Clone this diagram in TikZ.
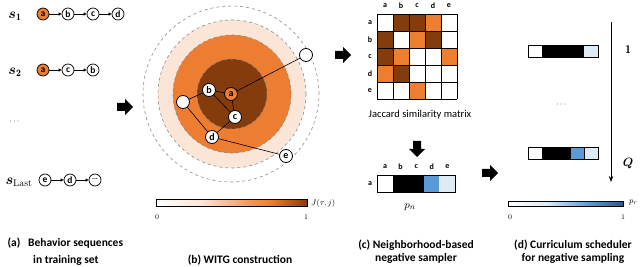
\documentclass[tikz,border=0pt]{standalone}
\usepackage{amsmath}
\usepackage{fontspec}
\newfontfamily\carl{Carlito}
\usetikzlibrary{arrows.meta}
\definecolor{cD}{HTML}{843C0C}
\definecolor{cO}{HTML}{ED7D31}
\definecolor{cP}{HTML}{FBE5D6}
\definecolor{cW}{HTML}{FFFFFF}
\definecolor{cB}{HTML}{5B9BD5}
\definecolor{cL}{HTML}{DEEBF7}
\definecolor{cK}{HTML}{000000}
\definecolor{cN}{HTML}{2E5A87}
\definecolor{ringgray}{HTML}{8C8C8C}
\pgfdeclarehorizontalshading{jshade}{100bp}{color(0bp)=(white); color(25bp)=(white); color(40bp)=(cP); color(55bp)=(cO!70!cP); color(63bp)=(cO); color(75bp)=(cD); color(100bp)=(cD)}
\pgfdeclarehorizontalshading{bshade}{100bp}{color(0bp)=(white); color(25bp)=(white); color(42bp)=(cL); color(60bp)=(cB); color(75bp)=(cN); color(100bp)=(cN)}
\tikzset{
  seqnode/.style={circle, draw, line width=0.7pt, minimum size=12pt, inner sep=0pt, fill=white, font=\carl\bfseries\fontsize{9.5}{9.5}\selectfont},
  seqarrow/.style={-{Triangle[length=3pt,width=3pt]}, line width=0.7pt},
  gnode/.style={circle, draw, line width=0.8pt, minimum size=13pt, inner sep=0pt, fill=white, font=\carl\bfseries\fontsize{10}{10}\selectfont},
  gedge/.style={line width=0.6pt},
  ring/.style={draw=ringgray, dashed, line width=0.6pt},
  blockarrow/.pic={\fill[black] (-8,-4) -- (0,-4) -- (0,-8) -- (8,0) -- (0,8) -- (0,4) -- (-8,4) -- cycle;},
  lbl/.style={font=\carl\bfseries\fontsize{8}{8}\selectfont, inner sep=0pt},
  capstyle/.style={font=\carl\bfseries\fontsize{11.5}{13}\selectfont, inner sep=0pt},
  tickstyle/.style={font=\fontsize{7}{7}\selectfont, inner sep=0pt},
  cellstyle/.style={draw, line width=0.8pt},
  slabel/.style={inner sep=0pt, font=\fontsize{14}{14}\selectfont},
}
\begin{document}
\begin{tikzpicture}[x=1pt,y=-1pt]
\useasboundingbox (0,0) rectangle (640,267);
% ---------- panel (a)
\node[slabel] (s1) at (15,16) {$\boldsymbol{s}_{\mathbf 1}$};
\node[slabel] (s2) at (15,72) {$\boldsymbol{s}_{\mathbf 2}$};
\node[inner sep=0pt] (sdots) at (15,122) {\fontsize{8}{8}\selectfont$\cdots$};
\node[slabel] (sL) at (19,182) {$\boldsymbol{s}_{\mathrm{Last}}$};
\node[seqnode, fill=cO] (a1) at (43,14) {a};
\node[seqnode] (b1) at (68,14) {b};
\node[seqnode] (c1) at (93,14) {c};
\node[seqnode] (d1) at (118,14) {d};
\draw[seqarrow] (a1) -- (b1);
\draw[seqarrow] (b1) -- (c1);
\draw[seqarrow] (c1) -- (d1);
\node[seqnode, fill=cO] (a2) at (43,70) {a};
\node[seqnode] (c2) at (68,70) {c};
\node[seqnode] (b2) at (93,70) {b};
\draw[seqarrow] (a2) -- (c2);
\draw[seqarrow] (c2) -- (b2);
\node[seqnode] (e3) at (45,180) {e};
\node[seqnode] (d3) at (70,180) {d};
\node[seqnode] (x3) at (95,180) {\raisebox{2pt}{\fontsize{7}{7}\selectfont...}};
\draw[seqarrow] (e3) -- (d3);
\draw[seqarrow] (d3) -- (x3);
\pic (arr1) at (125,107) {blockarrow};
% ---------- panel (b)
\fill[white] (231,94) circle[radius=88pt];
\draw[ring] (231,94) circle[radius=88pt];
\path[fill=cP, ring] (232,94) circle[radius=74pt];
\path[fill=cO, ring] (232,94) circle[radius=59pt];
\path[fill=cD, ring] (232,94) circle[radius=35pt];
\node[gnode] (gt) at (306,55) {};
\node[gnode] (gl) at (183,102) {};
\node[gnode] (gb) at (209,90) {b};
\node[gnode, fill=cO] (ga) at (231,94) {a};
\node[gnode] (gc) at (235,117) {c};
\node[gnode] (gd) at (212,137) {d};
\node[gnode] (ge) at (286,156) {e};
\draw[gedge] (ga) -- (gt);
\draw[gedge] (gb) -- (ga);
\draw[gedge] (gb) -- (gl);
\draw[gedge] (gb) -- (gc);
\draw[gedge] (ga) -- (gc);
\draw[gedge] (gc) -- (gd);
\draw[gedge] (gl) -- (gd);
\draw[gedge] (gd) -- (ge);
\draw[gedge, shading=jshade] (156,199) rectangle (307,206);
\node[anchor=west, inner sep=0pt] (jlab) at (311,203) {\fontsize{8}{8}\selectfont$J(\tau,j)$};
\node[tickstyle] (j0) at (157,217) {0};
\node[tickstyle] (j1) at (306,217) {1};
% ---------- panel (c)
\pic (arr2) at (343,55) {blockarrow};
\foreach \ch [count=\i from 0] in {a,b,c,d,e} {
  \node[lbl] (col\ch) at (385+16*\i,6) {\ch};
  \node[lbl] (row\ch) at (370,22.5+17*\i) {\ch};
}
\foreach \row [count=\j from 0] in {{W,D,D,O,W},{D,W,O,D,W},{D,O,W,W,O},{O,D,W,W,W},{W,W,O,W,W}} {
  \foreach \c [count=\i from 0] in \row {
    \path[fill=c\c] (377+16*\i,14+17*\j) rectangle ++(16,17);
  }
}
\foreach \i in {0,...,5} {
  \draw[line width=0.8pt] (377+16*\i,14) -- (377+16*\i,99);
  \draw[line width=0.8pt] (377,14+17*\i) -- (457,14+17*\i);
}
\node[font=\carl\fontsize{10.5}{10.5}\selectfont, inner sep=0pt] (jac) at (420,115) {Jaccard similarity matrix};
\pic[rotate=-90] (arr3) at (417,149) {blockarrow};
\foreach \ch [count=\i from 0] in {a,b,c,d,e} {
  \node[lbl] (pcol\ch) at (385+15.6*\i,167) {\ch};
}
\node[lbl] (prow) at (370,183.5) {a};
\foreach \c [count=\i from 0] in {W,K,K,B,L} {
  \path[fill=c\c] (377+15.6*\i,175) rectangle ++(15.6,17);
}
\draw[cellstyle] (377,175) rectangle (455,192);
\node[inner sep=0pt] (pn) at (410,207) {\fontsize{11}{11}\selectfont$p_n$};
\pic (arr4) at (490,173) {blockarrow};
% ---------- panel (d)
\foreach \c [count=\i from 0] in {W,K,K,K,L} {
  \path[fill=c\c] (528+14*\i,45) rectangle ++(14,12);
}
\draw[cellstyle] (528,45) rectangle (598,57);
\draw[line width=0.8pt] (542,45) -- (542,57);
\foreach \c [count=\i from 0] in {W,K,K,B,L} {
  \path[fill=c\c] (528+14*\i,147) rectangle ++(14,12);
}
\draw[cellstyle] (528,147) rectangle (598,159);
\draw[line width=0.8pt] (542,147) -- (542,159) (570,147) -- (570,159) (584,147) -- (584,159);
\node[inner sep=0pt] (ddots) at (562,105) {\fontsize{8}{8}\selectfont$\cdots$};
\coordinate (qtop) at (611,22);
\coordinate (qbot) at (611,182);
\draw[line width=0.8pt, -{Stealth[length=6pt,width=4.5pt]}] (qtop) -- (qbot);
\node[inner sep=0pt] (one) at (628,50) {\fontsize{12}{12}\selectfont$\mathbf{1}$};
\node[inner sep=0pt] (Q) at (628,164) {\fontsize{12}{12}\selectfont$\boldsymbol{Q}$};
\draw[gedge, shading=bshade] (508,201) rectangle (623,206);
\node[anchor=west, inner sep=0pt] (prlab) at (629,203) {\fontsize{8}{8}\selectfont$p_r$};
\node[tickstyle] (b0) at (510,217) {0};
\node[tickstyle] (b1) at (623,217) {1};
% ---------- captions
\node[capstyle] (capa0) at (14,243) {(a)};
\node[capstyle, anchor=west] (capa1) at (28,243) {Behavior sequences};
\node[capstyle, anchor=west] (capa2) at (33,260) {in training set};
\node[capstyle] (capb) at (240,260) {(b) WITG construction};
\node[capstyle] (capc1) at (416,245) {(c) Neighborhood-based};
\node[capstyle] (capc2) at (416,258) {negative sampler};
\node[capstyle] (capd1) at (573,245) {(d) Curriculum scheduler};
\node[capstyle] (capd2) at (573,258) {for negative sampling};
\end{tikzpicture}
\end{document}
